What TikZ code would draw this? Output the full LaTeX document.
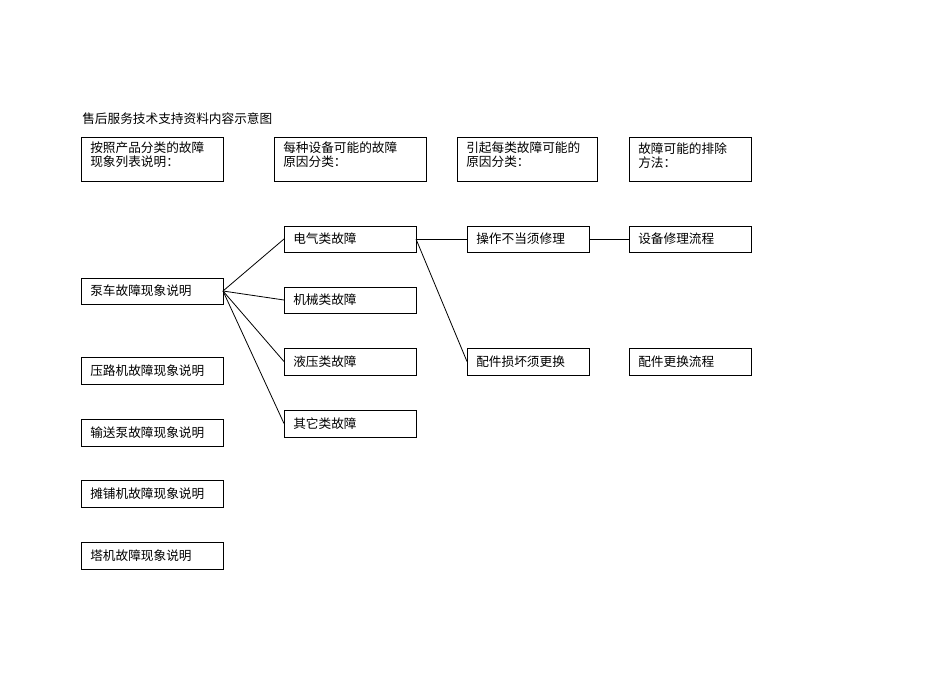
\documentclass[tikz,border=0pt]{standalone}
\usepackage{fontspec}
\setmainfont{Noto Sans CJK SC}
\begin{document}
\begin{tikzpicture}[x=0.75pt,y=-0.75pt,
  bx/.style={draw,line width=0.6pt,minimum height=19.5pt,anchor=north west,inner sep=0pt},
  tx/.style={anchor=west,inner sep=0pt,font=\fontsize{9.5pt}{12pt}\selectfont},
  ln/.style={line width=0.6pt}]
\useasboundingbox (0,0) rectangle (950,672);
\node[tx] (title) at (82,119) {售后服务技术支持资料内容示意图};
% header boxes
\foreach \n/\x/\w/\t in {h1/81/142/{按照产品分类的故障\\现象列表说明：},h2/274/152/{每种设备可能的故障\\原因分类：},h3/457/140/{引起每类故障可能的\\原因分类：},h4/629/122/{故障可能的排除\\方法：}}{
  \draw[ln] (\x,137) rectangle ++(\w,44);
  \node[anchor=north west,inner sep=0pt,align=left,font=\fontsize{9.5pt}{10.5pt}\selectfont] (\n) at (\x+9,142) {\t};
}
% generic boxes
\newcommand\mybox[6]{%
  \path (#2,#3) coordinate (#1nw) (#2+#4,#3+#5) coordinate (#1se);
  \draw[ln] (#1nw) rectangle (#1se);
  \node[tx] (#1) at (#2+9,#3+#5/2) {#6};
  \coordinate (#1L) at (#2,#3+#5/2);
  \coordinate (#1R) at (#2+#4,#3+#5/2);}
\mybox{a1}{81}{278}{142}{26}{泵车故障现象说明}
\mybox{a2}{81}{357}{142}{27}{压路机故障现象说明}
\mybox{a3}{81}{419}{142}{27}{输送泵故障现象说明}
\mybox{a4}{81}{480}{142}{27}{摊铺机故障现象说明}
\mybox{a5}{81}{542}{142}{27}{塔机故障现象说明}
\mybox{b1}{284}{226}{132}{26}{电气类故障}
\mybox{b2}{284}{287}{132}{26}{机械类故障}
\mybox{b3}{284}{348}{132}{27}{液压类故障}
\mybox{b4}{284}{410}{132}{27}{其它类故障}
\mybox{c1}{467}{226}{122}{26}{操作不当须修理}
\mybox{c2}{467}{348}{122}{27}{配件损坏须更换}
\mybox{d1}{629}{226}{122}{26}{设备修理流程}
\mybox{d2}{629}{348}{122}{27}{配件更换流程}
\foreach \b in {b1,b2,b3,b4} \draw[ln] (a1R) -- (\b L);
\draw[ln] (b1R) -- (c1L);
\draw[ln] (b1R) -- (c2L);
\draw[ln] (c1R) -- (d1L);
\end{tikzpicture}
\end{document}
